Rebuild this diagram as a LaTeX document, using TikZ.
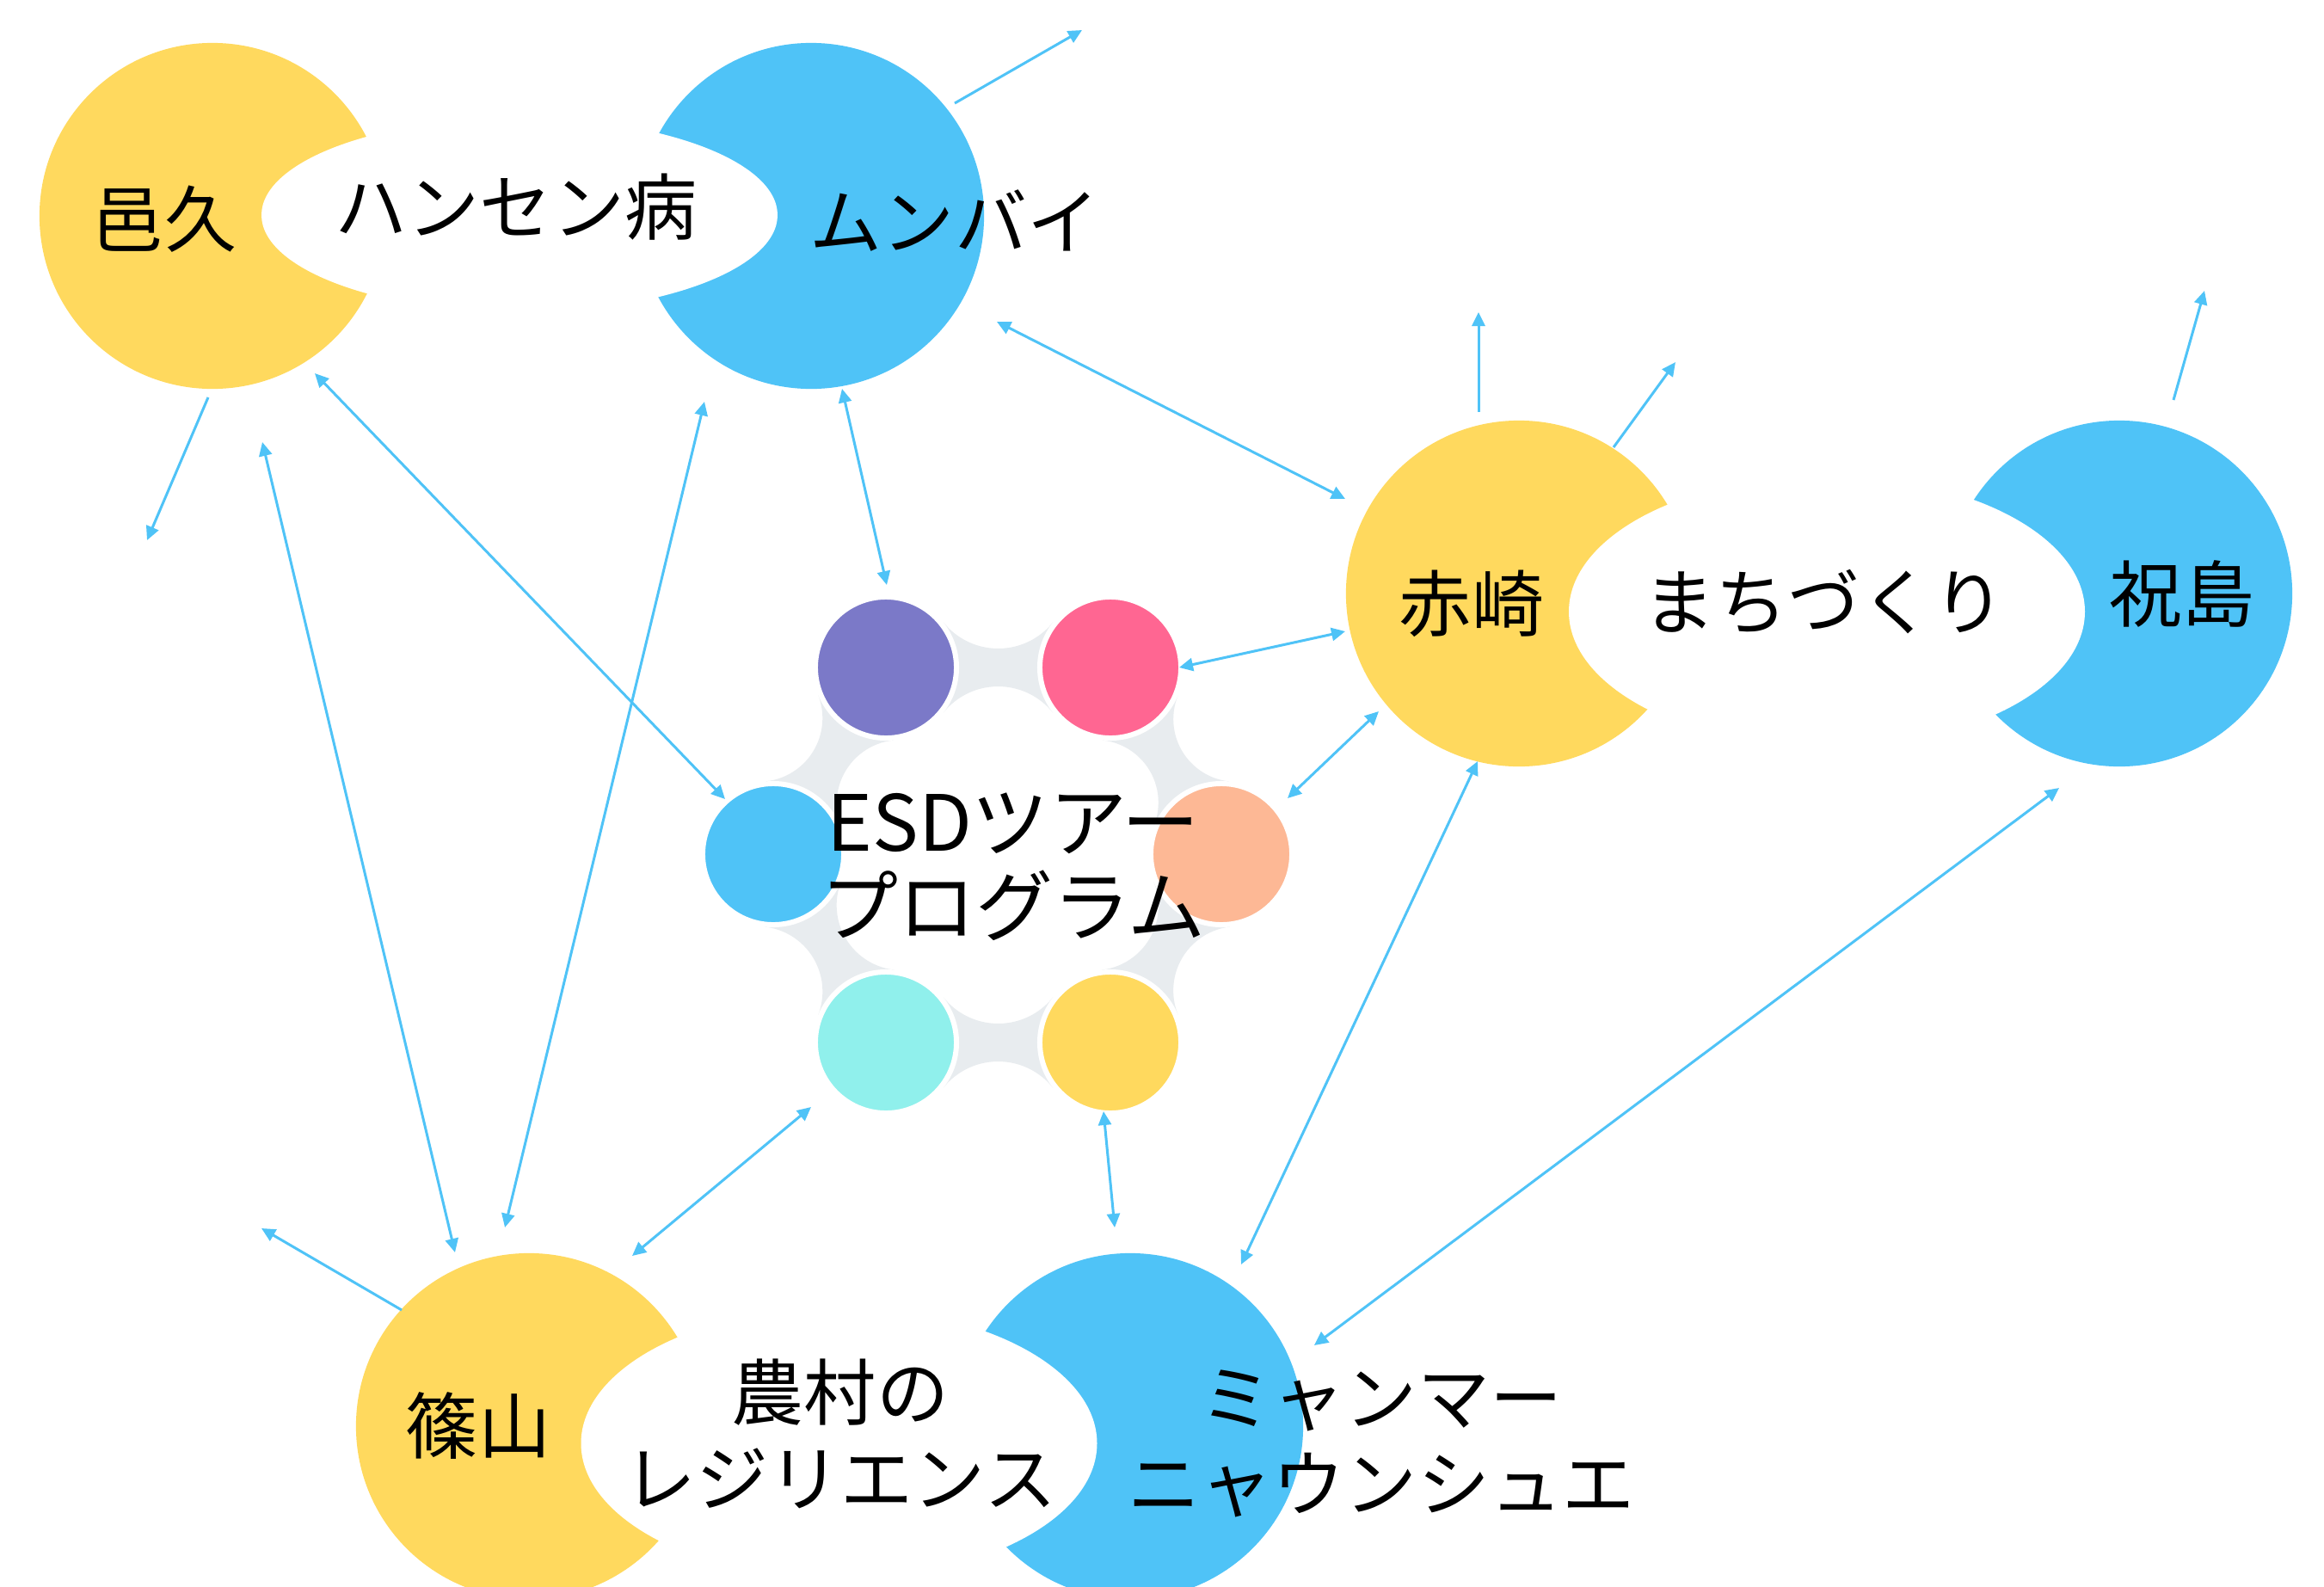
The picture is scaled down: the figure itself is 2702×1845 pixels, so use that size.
\documentclass[tikz,border=0pt]{standalone}
\usepackage{fontspec}
\setmainfont{Noto Sans CJK JP}
\usetikzlibrary{arrows.meta,calc}
\definecolor{lblue}{HTML}{4FC3F7}
\definecolor{yel}{HTML}{FFD95E}
\definecolor{cpurple}{HTML}{7B79C8}
\definecolor{cpink}{HTML}{FF6692}
\definecolor{csalmon}{HTML}{FDB895}
\definecolor{ccyan}{HTML}{90F0EC}
\definecolor{bgray}{HTML}{E8ECEF}
\begin{document}
\begin{tikzpicture}[x=0.01cm,y=-0.01cm,
  bigc/.style={circle, inner sep=0pt, outer sep=0pt, minimum size=4.02cm},
  smallc/.style={circle, inner sep=0pt, outer sep=0pt, minimum size=1.64cm, draw=white, line width=0.06cm},
  lbl/.style={inner sep=0pt, font=\fontsize{23.9}{28.45}\selectfont, align=center},
  ctr/.style={inner sep=0pt, font=\fontsize{25.6}{28}\selectfont, align=center},
  conn/.style={draw=lblue, line width=0.03cm},
  one/.style={conn, -{Triangle[length=0.16cm,width=0.15cm]}},
  two/.style={conn, {Triangle[length=0.16cm,width=0.15cm]}-{Triangle[length=0.16cm,width=0.15cm]}},
  bridge/.style={fill=bgray}]
\useasboundingbox (0,0) rectangle (2702,1845);
\fill[white] (0,0) rectangle (2702,1845);

% ---------- big circles ----------
\node[bigc, fill=yel]   (ohku)      at (247,251)  {};
\node[bigc, fill=lblue] (mumbai)    at (943,251)  {};
\node[bigc, fill=yel]   (akasaki)   at (1766,690) {};
\node[bigc, fill=lblue] (iwai)      at (2464,690) {};
\node[bigc, fill=yel]   (sasayama)  at (615,1658) {};
\node[bigc, fill=lblue] (myanmar)   at (1314,1658){};

% white connecting ellipses
\fill[white] (604,250) ellipse [x radius=300, y radius=113];
\fill[white] (2124,711) ellipse [x radius=300, y radius=158];
\fill[white] (975.5,1678) ellipse [x radius=300, y radius=158];

% ---------- central cluster bridges ----------
\def\bw{22}
\def\ringR{85}
\foreach \ax/\ay/\bx/\by in {1030/776/1291/776, 1291/776/1420/993, 1420/993/1291/1212, 1291/1212/1030/1212, 1030/1212/899/993, 899/993/1030/776}{
  \pgfmathsetmacro\bdx{\bx-\ax}
  \pgfmathsetmacro\bdy{\by-\ay}
  \pgfmathsetmacro\bhd{veclen(\bdx/10,\bdy/10)*5}
  \pgfmathsetmacro\bth{atan2(-\bdy,\bdx)}
  \pgfmathsetmacro\brr{((\bhd/10)^2+(\bw/10)^2-(\ringR/10)^2)*50/(\ringR-\bw)}
  \pgfmathsetmacro\bq{\bw+\brr}
  \pgfmathsetmacro\bal{atan2(\bq,\bhd)}
  \pgfmathsetmacro\bmx{(\ax+\bx)/2}
  \pgfmathsetmacro\bmy{(\ay+\by)/2}
  \fill[bridge, shift={(\bmx,\bmy)}, rotate=\bth, y=0.01cm]
    ({-\brr*cos(\bal)},{\bq-\brr*sin(\bal)})
    arc[start angle={180+\bal}, end angle={360-\bal}, radius=\brr]
    -- ({\brr*cos(\bal)},{-\bq+\brr*sin(\bal)})
    arc[start angle={\bal}, end angle={180-\bal}, radius=\brr]
    -- cycle;
}

% ---------- small circles ----------
\node[smallc, fill=cpurple] (cpu) at (1030,776)  {};
\node[smallc, fill=cpink]   (cpk) at (1291,776)  {};
\node[smallc, fill=lblue]   (cbl) at (899,993)   {};
\node[smallc, fill=csalmon] (csa) at (1420,993)  {};
\node[smallc, fill=ccyan]   (ccy) at (1030,1212) {};
\node[smallc, fill=yel]     (cye) at (1291,1212) {};

% ---------- texts ----------
\node[lbl] (t1) at (191,255)  {邑久};
\node[lbl] (t2) at (600,241)  {ハンセン病};
\node[lbl] (t3) at (1110,257) {ムンバイ};
\node[lbl] (t4) at (1711,702) {赤崎};
\node[lbl] (t5) at (2121,700) {まちづくり};
\node[lbl] (t6) at (2537,690) {祝島};
\node[lbl] (t7) at (556,1657) {篠山};
\node[lbl] (t8) at (977,1667) {農村の\\レジリエンス};
\node[lbl] (t9) at (1606,1678) {ミャンマー\\ニャウンシュエ};
\node[ctr] (tc) at (1178,1008) {ESDツアー\\プログラム};

% ---------- connector end points ----------
\coordinate (p1a) at (1110,120);  \coordinate (p1b) at (1258,35);
\coordinate (p2a) at (242,462);   \coordinate (p2b) at (171,628);
\coordinate (p3a) at (305,514);   \coordinate (p3b) at (529,1456);
\coordinate (p4a) at (366,434);   \coordinate (p4b) at (843,929);
\coordinate (p5a) at (819,467);   \coordinate (p5b) at (587,1427);
\coordinate (p6a) at (979,452);   \coordinate (p6b) at (1031,680);
\coordinate (p7a) at (1159,374);  \coordinate (p7b) at (1564,580);
\coordinate (p8a) at (1564,734);  \coordinate (p8b) at (1371,776);
\coordinate (p9a) at (1603,827);  \coordinate (p9b) at (1497,928);
\coordinate (p10a) at (1719,479); \coordinate (p10b) at (1719,363);
\coordinate (p11a) at (1876,520); \coordinate (p11b) at (1948,421);
\coordinate (p12a) at (2527,465); \coordinate (p12b) at (2563,338);
\coordinate (p13a) at (1718,885); \coordinate (p13b) at (1443,1470);
\coordinate (p14a) at (2394,916); \coordinate (p14b) at (1528,1564);
\coordinate (p15a) at (1283,1292);\coordinate (p15b) at (1296,1427);
\coordinate (p16a) at (943,1287); \coordinate (p16b) at (735,1460);
\coordinate (p17a) at (467,1523); \coordinate (p17b) at (304,1428);

% ---------- connectors ----------
\draw[one] (p1a) -- (p1b);
\draw[one] (p2a) -- (p2b);
\draw[two] (p3a) -- (p3b);
\draw[two] (p4a) -- (p4b);
\draw[two] (p5a) -- (p5b);
\draw[two] (p6a) -- (p6b);
\draw[two] (p7a) -- (p7b);
\draw[two] (p8a) -- (p8b);
\draw[two] (p9a) -- (p9b);
\draw[one] (p10a) -- (p10b);
\draw[one] (p11a) -- (p11b);
\draw[one] (p12a) -- (p12b);
\draw[two] (p13a) -- (p13b);
\draw[two] (p14a) -- (p14b);
\draw[two] (p15a) -- (p15b);
\draw[two] (p16a) -- (p16b);
\draw[one] (p17a) -- (p17b);
\end{tikzpicture}
\end{document}
